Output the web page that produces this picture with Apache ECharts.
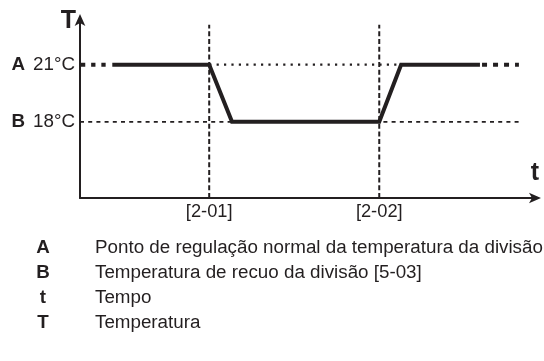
<!DOCTYPE html>
<html>
<head>
<meta charset="utf-8">
<script src="https://cdn.jsdelivr.net/npm/echarts@6/dist/echarts.min.js"></script>
<style>
  html, body { margin: 0; padding: 0; background: #fff; }
  #chart { width: 544px; height: 361px; }
</style>
</head>
<body>
<div id="chart"></div>
<script>
// Room temperature setpoint over time: normal setpoint and setback period.
const levelKeys = ['A', 'B'];
const levelValues = [21, 18];            // °C
const levelLabels = ['21°C', '18°C'];

const switchTimes = [6.8, 15.75];        // moments the setback starts / ends
const switchLabels = ['[2-01]', '[2-02]'];

// Temperature profile (time, °C)
const profileTime = [1.7, 6.8, 8.0, 15.75, 16.9, 21.05];
const profileTemp = [21, 21, 18, 18, 21, 21];

// Continuation of the profile before and after the shown period
const leadTime = [0.05, 1.37];
const trailTime = [21.16, 23.1];

// Extents of the guide lines
const guideHighEnd = 21.05;
const guideLowEnd = 23.2;
const guideTop = 23.1;

const legendKeys = ['A', 'B', 't', 'T'];
const legendTexts = [
  'Ponto de regulação normal da temperatura da divisão',
  'Temperatura de recuo da divisão [5-03]',
  'Tempo',
  'Temperatura'
];

const INK = '#231f20';
const FONT = '"Liberation Sans", Arial, Helvetica, sans-serif';
const FS = 18.8;

const pairs = (xs, ys) => xs.map((x, i) => [x, ys[i]]);

const guideStyle = (type, width) => ({
  type: 'line', symbol: 'none', silent: true, z: 1,
  lineStyle: { color: INK, width: width, type: type, cap: 'butt' }
});

const series = [];

// Vertical guides at the switching times
switchTimes.forEach((t) => {
  series.push(Object.assign(guideStyle([5, 2.7], 2), {
    data: [[t, 14], [t, guideTop]]
  }));
});

// Horizontal guide at the normal setpoint (dotted)
series.push(Object.assign(guideStyle([2.2, 5.2], 2.2), {
  data: [[switchTimes[0], levelValues[0]], [guideHighEnd, levelValues[0]]]
}));

// Horizontal guide at the setback temperature (dashed)
series.push(Object.assign(guideStyle([4, 4.2], 1.8), {
  data: [[0, levelValues[1]], [guideLowEnd, levelValues[1]]]
}));

// Main profile
series.push({
  type: 'line', symbol: 'none', silent: true, z: 3,
  lineStyle: { color: INK, width: 4, join: 'miter', cap: 'butt' },
  data: pairs(profileTime, profileTemp)
});

// Dashed continuation at both ends
series.push({
  type: 'line', symbol: 'none', silent: true, z: 3,
  lineStyle: { color: INK, width: 4, type: [4.3, 5.9], cap: 'butt' },
  data: leadTime.map((t) => [t, levelValues[0]])
});
series.push({
  type: 'line', symbol: 'none', silent: true, z: 3,
  lineStyle: { color: INK, width: 4, type: [5, 6], cap: 'butt' },
  data: trailTime.map((t) => [t, levelValues[0]])
});

// Key below the chart
const graphic = [];
legendKeys.forEach((k, i) => {
  const y = 248 + i * 25;
  graphic.push({
    type: 'text', x: 43, y: y,
    style: { text: k, font: 'bold ' + FS + 'px ' + FONT, fill: INK, align: 'center', verticalAlign: 'middle' }
  });
  graphic.push({
    type: 'text', x: 95, y: y,
    style: { text: legendTexts[i], font: FS + 'px ' + FONT, fill: INK, align: 'left', verticalAlign: 'middle' }
  });
});

const arrowLine = {
  show: true, symbol: ['none', 'arrow'], symbolSize: [8, 12], symbolOffset: [0, 5],
  lineStyle: { color: INK, width: 2 }
};

const option = {
  animation: false,
  backgroundColor: '#ffffff',
  textStyle: { fontFamily: FONT },
  grid: { left: 80, right: 8, top: 19, bottom: 163, containLabel: false },
  xAxis: {
    type: 'value', min: 0, max: 24,
    name: 't',
    nameLocation: 'end',
    nameGap: -1,
    nameTextStyle: {
      fontFamily: FONT, fontWeight: 'bold', fontSize: 25, color: INK,
      align: 'center', verticalAlign: 'bottom', padding: [0, 0, 12, 0]
    },
    axisLine: arrowLine,
    axisTick: { show: false },
    splitLine: { show: false },
    axisLabel: {
      customValues: switchTimes,
      margin: 5,
      fontFamily: FONT, fontSize: 18.3, color: INK,
      formatter: (v) => {
        const i = switchTimes.findIndex((t) => Math.abs(t - v) < 1e-6);
        return i >= 0 ? switchLabels[i] : '';
      }
    }
  },
  yAxis: {
    type: 'value', min: 14, max: 23.4,
    name: 'T',
    nameLocation: 'end',
    nameGap: -2.5,
    nameTextStyle: {
      fontFamily: FONT, fontWeight: 'bold', fontSize: 25, color: INK,
      align: 'right', verticalAlign: 'middle', padding: [0, 4, 0, 0]
    },
    axisLine: arrowLine,
    axisTick: { show: false },
    splitLine: { show: false },
    axisLabel: {
      customValues: levelValues,
      margin: 5,
      fontFamily: FONT, fontSize: FS, color: INK,
      formatter: (v) => {
        const i = levelValues.indexOf(v);
        return i >= 0 ? '{k|' + levelKeys[i] + '}{v|' + levelLabels[i] + '}' : '';
      },
      rich: {
        k: { fontFamily: FONT, fontWeight: 'bold', fontSize: FS, color: INK, padding: [0, 8, 0, 0] },
        v: { fontFamily: FONT, fontSize: FS, color: INK }
      }
    }
  },
  series: series,
  graphic: graphic
};

const chart = echarts.init(document.getElementById('chart'), null, { renderer: 'canvas' });
chart.setOption(option);
</script>
</body>
</html>
